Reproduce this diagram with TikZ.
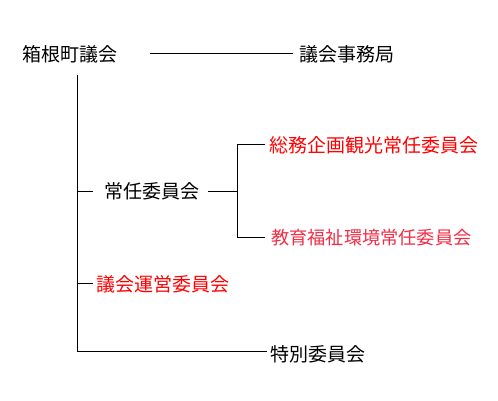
\documentclass[tikz,border=0pt]{standalone}
\usepackage{fontspec}
\newfontfamily\jpfont{Noto Sans CJK JP}
\definecolor{redA}{RGB}{255,0,0}
\definecolor{redB}{RGB}{240,45,70}
\begin{document}
\begin{tikzpicture}[x=1pt,y=-1pt,
  lbl/.style={inner sep=0pt,anchor=west,font=\jpfont\fontsize{19}{21}\selectfont},
  lblsm/.style={inner sep=0pt,anchor=west,font=\jpfont\fontsize{18.2}{21}\selectfont},
  conn/.style={draw=black,line width=1pt}]
\useasboundingbox (0,0) rectangle (498,400);
\node[lbl] (gikai) at (22,54) {箱根町議会};
\node[lbl] (jimu) at (299,54) {議会事務局};
\node[lbl] (jonin) at (104,191) {常任委員会};
\node[lbl,text=redA] (somu) at (269,145) {総務企画観光常任委員会};
\node[lblsm,text=redB] (kyoiku) at (271,238) {教育福祉環境常任委員会};
\node[lbl,text=redA] (unei) at (96,284) {議会運営委員会};
\node[lbl] (tokubetsu) at (270,354) {特別委員会};
\coordinate (lineA) at (150,53);
\coordinate (lineB) at (293,53);
\coordinate (vtop) at (77,75);
\coordinate (vbot) at (77,351);
\coordinate (t1) at (93,191);
\coordinate (t2) at (93,283);
\coordinate (jr) at (208,191);
\coordinate (br) at (237,191);
\coordinate (bt) at (237,144);
\coordinate (bb) at (237,237);
\coordinate (et) at (265,144);
\coordinate (eb) at (265,237);
\coordinate (ebot) at (267,351);
\draw[conn] (lineA) -- (lineB);
\draw[conn] (vtop) -- (vbot) -- (ebot);
\draw[conn] (vtop |- t1) -- (t1);
\draw[conn] (vtop |- t2) -- (t2);
\draw[conn] (jr) -- (br);
\draw[conn] (et) -- (bt) -- (bb) -- (eb);
\end{tikzpicture}
\end{document}
